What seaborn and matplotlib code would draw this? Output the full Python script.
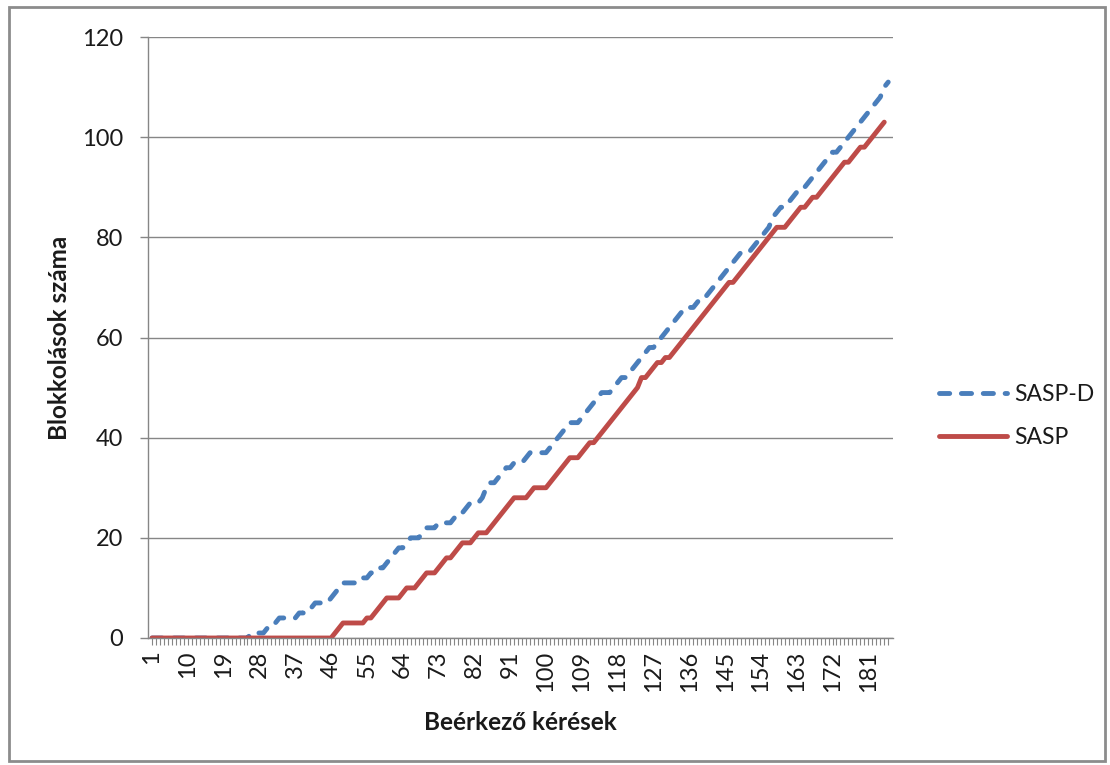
import numpy as np
import pandas as pd
import matplotlib
matplotlib.use("Agg")
import matplotlib.pyplot as plt
from matplotlib.patches import Rectangle
from matplotlib.lines import Line2D
import seaborn as sns

# Cumulative number of blockings per incoming request (requests 1..186)
sasp_d = (
    [0] * 25 + [1] * 4 + [2] * 2 + [3] + [4] * 5 + [5] * 2 + [6] * 2 + [7] * 4
    + [8, 9, 10] + [11] * 5
    + [12, 12, 13, 13, 14, 14, 15, 16, 17, 18, 18, 19, 20, 20, 20, 21, 22, 22, 22,
       23, 23, 23, 23, 24, 25, 25, 26, 27, 27, 27, 28, 30, 31, 31, 32, 33, 34, 34,
       35, 35, 35, 36, 37, 37, 37, 37, 37, 38, 39, 40, 41, 42, 43, 43, 43, 44, 45,
       46, 47, 48, 49, 49, 49, 50, 51, 52, 52, 53, 54, 55, 56, 57, 58, 58, 59, 60,
       61, 62, 63, 64, 65, 66, 66, 66, 67, 68, 68, 69, 70, 71, 72, 73, 74, 75, 76,
       77, 77, 77, 78, 79, 80, 81, 82, 84, 85, 86, 86, 87, 88, 89, 89, 90, 91, 92,
       93, 94, 95, 96, 97, 97, 98, 99, 100, 101, 102, 103, 104, 105, 106, 107, 108,
       110, 111]
)
sasp = (
    [0] * 46 + [1, 2] + [3] * 6 + [4, 4, 5, 6, 7] + [8] * 4 + [9] + [10] * 3
    + [11, 12, 13, 13, 13, 14, 15, 16, 16, 17, 18, 19, 19, 19, 20, 21, 21, 21, 22,
       23, 24, 25, 26, 27, 28, 28, 28, 28, 29, 30, 30, 30, 30, 31, 32, 33, 34, 35,
       36, 36, 36, 37, 38, 39, 39, 40, 41, 42, 43, 44, 45, 46, 47, 48, 49, 50, 52,
       52, 53, 54, 55, 55, 56, 56, 57, 58, 59, 60, 61, 62, 63, 64, 65, 66, 67, 68,
       69, 70, 71, 71, 72, 73, 74, 75, 76, 77, 78, 79, 80, 81, 82, 82, 82, 83, 84,
       85, 86, 86, 87, 88, 88, 89, 90, 91, 92, 93, 94, 95, 95, 96, 97, 98, 98, 99,
       100, 101, 102, 103, np.nan]
)
requests = list(range(1, len(sasp_d) + 1))
series_names = ["SASP-D", "SASP"]
y_ticks = [0, 20, 40, 60, 80, 100, 120]
x_tick_labels = list(range(1, 182, 9))

df = pd.DataFrame({
    "request": requests * 2,
    "blocks": sasp_d + sasp,
    "series": [series_names[0]] * len(sasp_d) + [series_names[1]] * len(sasp),
})

sns.set_theme(style="white")
plt.rcParams["font.family"] = ["Lato", "DejaVu Sans"]

blue = "#4A7EBB"
red = "#BE4B48"
grid_c = "#868686"
text_c = "#1a1a1a"
lw = 3.5
dash = (2.1, 2.4)

fig = plt.figure(figsize=(11.10, 7.65), dpi=100)
ax = fig.add_axes([148 / 1110, 1 - 638 / 765, (893 - 148) / 1110, (638 - 37) / 765])

sns.lineplot(
    data=df, x="request", y="blocks", hue="series", style="series",
    palette={"SASP-D": blue, "SASP": red},
    dashes={"SASP-D": dash, "SASP": ""},
    linewidth=lw, ax=ax, legend=False, estimator=None, sort=False,
)
for ln in ax.get_lines():
    ln.set_dash_capstyle("round")
    ln.set_solid_capstyle("round")
    ln.set_solid_joinstyle("round")

ax.set_xlim(0, 187.2)
ax.set_ylim(0, 120)
ax.set_yticks(y_ticks)
ax.set_yticklabels([str(v) for v in y_ticks], fontsize=17, color=text_c)
ax.set_xticks(x_tick_labels)
ax.set_xticklabels([str(v) for v in x_tick_labels], rotation=90, fontsize=17,
                   color=text_c)
ax.set_xticks([r for r in requests if r not in x_tick_labels], minor=True)

ax.grid(axis="y", color=grid_c, linewidth=1.0)
ax.set_axisbelow(True)
for side in ["top", "right"]:
    ax.spines[side].set_visible(False)
for side in ["left", "bottom"]:
    ax.spines[side].set_color(grid_c)
    ax.spines[side].set_linewidth(1.0)

ax.tick_params(axis="y", which="major", direction="out", length=6, width=1,
               color=grid_c, pad=12, left=True)
ax.tick_params(axis="x", which="both", direction="out", length=5, width=0.8,
               color=grid_c, bottom=True)
ax.tick_params(axis="x", which="major", pad=4)

ax.set_xlabel("Beérkező kérések", fontsize=17.5, fontweight="bold", color=text_c)
ax.set_ylabel("Blokkolások száma", fontsize=17.5, fontweight="bold", color=text_c)
ax.xaxis.set_label_coords(0.5, -0.121)
ax.yaxis.set_label_coords(-0.103, 0.5)

handles = [
    Line2D([], [], color=blue, linewidth=lw, dashes=dash, dash_capstyle="round"),
    Line2D([], [], color=red, linewidth=lw, solid_capstyle="round"),
]
leg = fig.legend(handles, series_names, loc="center left",
                 bbox_to_anchor=(918 / 1110, 1 - 416 / 765), frameon=False,
                 fontsize=16.5, handlelength=3.0, labelspacing=1.0,
                 handletextpad=0.3)
for t in leg.get_texts():
    t.set_color(text_c)

fig.patches.append(Rectangle((9 / 1110, 4 / 765), 1096 / 1110, 754 / 765,
                             transform=fig.transFigure, fill=False,
                             edgecolor="#8c8c8c", linewidth=2.0))

fig.savefig("out.png", dpi=100)
